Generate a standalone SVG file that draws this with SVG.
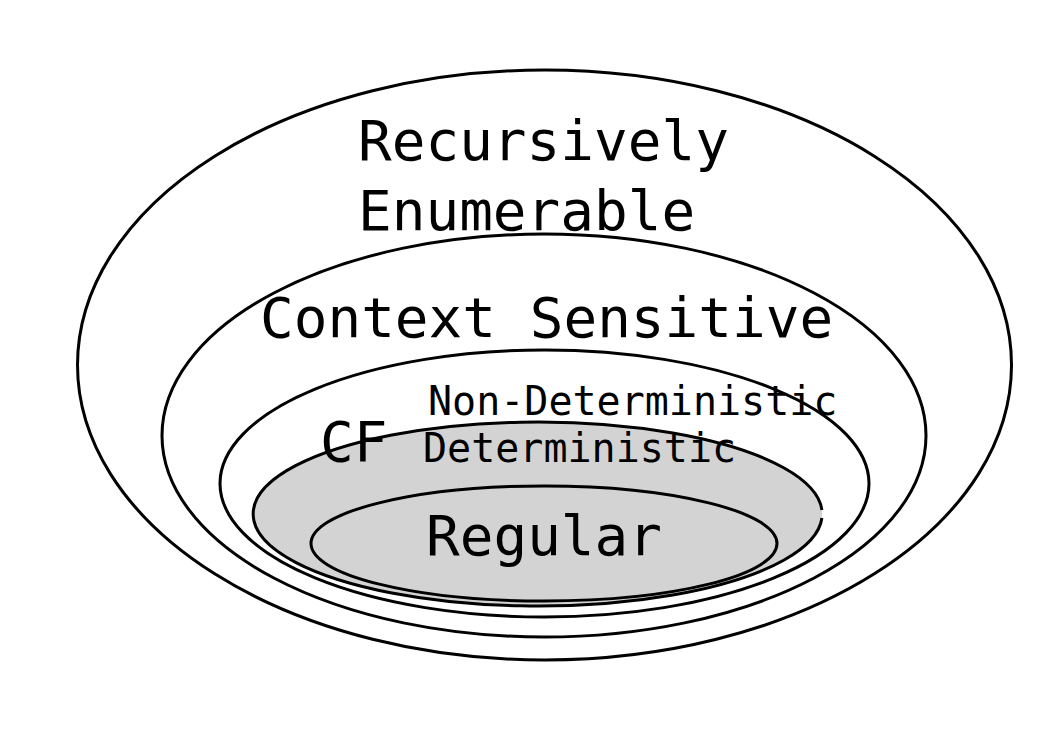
<svg xmlns="http://www.w3.org/2000/svg" width="1053" height="745" viewBox="0 0 1053 745">
<style>
.e{fill:none;stroke:#000;stroke-width:3}
.t{font-family:"DejaVu Sans Mono","Liberation Mono",monospace;fill:#000}
.big{font-size:56px}
.sm{font-size:40px}
</style>
<rect width="1053" height="745" fill="#fff"/>
<g id="re">
<ellipse class="e" cx="544.5" cy="365" rx="467" ry="295"/>
<text class="t big" x="358" y="160">Recursively</text>
<text class="t big" x="358" y="230">Enumerable</text>
</g>
<g id="cs">
<ellipse class="e" cx="544" cy="435.5" rx="382" ry="201.5"/>
<text class="t big" x="260" y="337">Context Sensitive</text>
</g>
<g id="cf">
<ellipse class="e" cx="544.5" cy="483.5" rx="324.5" ry="133.5"/>
</g>
<g id="det">
<ellipse cx="537.5" cy="514" rx="284.5" ry="92" fill="#d3d3d3"/>
<path class="e" d="M821.9,518 A284.5,92 0 1 1 821.9,510"/>
</g>
<g id="labels">
<text class="t big" x="320" y="461">CF</text>
<text class="t sm" x="428" y="415">Non-Deterministic</text>
<text class="t sm" x="423" y="462">Deterministic</text>
</g>
<g id="reg">
<ellipse class="e" cx="544" cy="543.5" rx="233" ry="57.5"/>
<text class="t big" x="426" y="555">Regular</text>
</g>
<g id="connectors"/>
</svg>
